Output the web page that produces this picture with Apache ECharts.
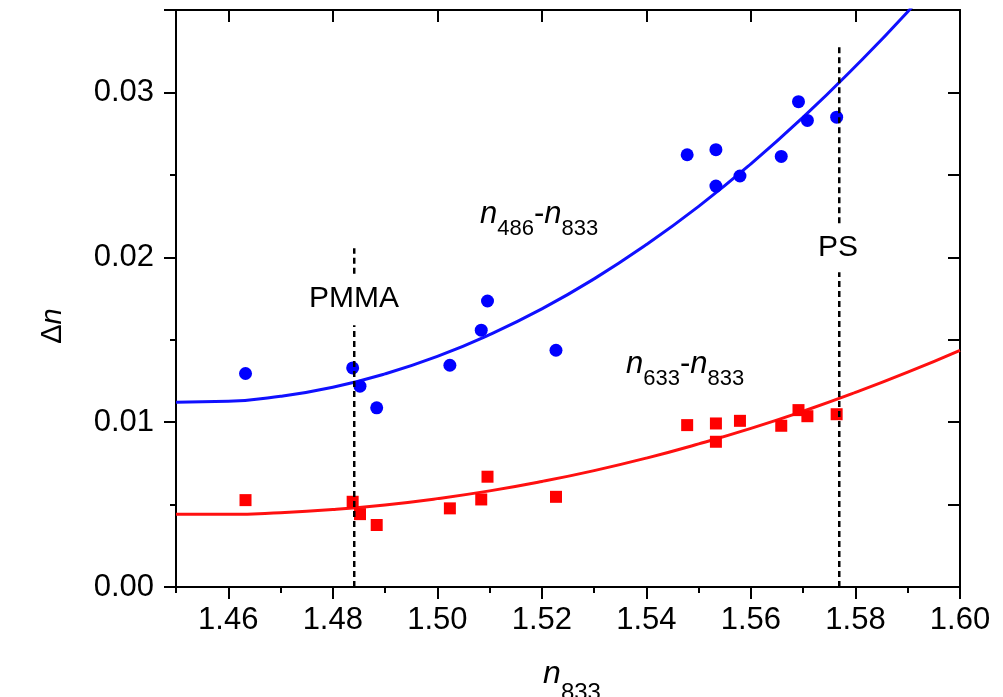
<!DOCTYPE html>
<html>
<head>
<meta charset="utf-8">
<script src="https://cdn.jsdelivr.net/npm/echarts@6/dist/echarts.min.js"></script>
<style>html,body{margin:0;padding:0;background:#fff;}#c{width:1003px;height:697px;}</style>
</head>
<body>
<div id="c"></div>
<script>
// ---- data ----
const blueX = [1.4633, 1.4838, 1.4852, 1.4884, 1.5024, 1.5084, 1.5096, 1.5227, 1.5478, 1.5533, 1.5533, 1.5579, 1.5658, 1.5691, 1.5708, 1.5764];
const blueY = [0.01295, 0.01329, 0.01218, 0.01087, 0.01345, 0.01558, 0.01735, 0.01436, 0.02622, 0.02653, 0.02432, 0.02493, 0.02612, 0.02944, 0.0283, 0.0285];
const redX  = [1.4633, 1.4838, 1.4852, 1.4884, 1.5024, 1.5084, 1.5096, 1.5227, 1.5478, 1.5533, 1.5533, 1.5579, 1.5658, 1.5691, 1.5708, 1.5764];
const redY  = [0.00527, 0.00517, 0.00442, 0.00376, 0.00477, 0.00531, 0.00669, 0.00547, 0.00982, 0.00992, 0.00881, 0.01008, 0.00978, 0.01073, 0.01036, 0.01048];
// fitted curves
const fitX     = [1.45, 1.46, 1.47, 1.48, 1.49, 1.50, 1.51, 1.52, 1.53, 1.54, 1.55, 1.56, 1.57, 1.58, 1.59, 1.60];
const blueFitY = [0.01121, 0.01126, 0.01157, 0.01212, 0.01293, 0.01399, 0.01531, 0.01687, 0.01869, 0.02077, 0.02309, 0.02567, 0.0285, 0.03159, 0.0349, 0.0385];
const redFitY  = [0.00441, 0.00441, 0.00451, 0.0047, 0.00498, 0.00536, 0.00583, 0.0064, 0.00706, 0.00782, 0.00868, 0.00962, 0.01066, 0.0118, 0.01303, 0.01436];
// reference lines (x position, segments in y)
const pmmaX = 1.4841;
const pmmaSegs = [[0, 0.01588], [0.0190, 0.02055]];
const psX = 1.5769;
const psSegs = [[0, 0.01909], [0.02206, 0.0329]];
// axis ticks
const xMajor = [1.46, 1.48, 1.50, 1.52, 1.54, 1.56, 1.58, 1.60];
const xMinor = [1.45, 1.47, 1.49, 1.51, 1.53, 1.55, 1.57, 1.59];
const xMin = 1.45, xMax = 1.60, yMin = 0, yMax = 0.035;

const zip = (a, b) => a.map((v, i) => [v, b[i]]);
const FONT = '"Liberation Sans", Arial, sans-serif';
const TICKFS = 31;

const baseX = {
  type: 'value', min: xMin, max: xMax, splitLine: {show: false},
  axisLine: {show: false}, axisLabel: {show: false}, axisTick: {show: false}
};
const xAxes = [
  Object.assign({}, baseX, {
    position: 'bottom',
    axisLine: {show: true, onZero: false, lineStyle: {color: '#000', width: 2}},
    axisTick: {show: true, inside: false, length: 12, customValues: xMajor, lineStyle: {color: '#000', width: 2}},
    axisLabel: {show: true, customValues: xMajor, margin: 18, color: '#000', fontSize: TICKFS, fontFamily: FONT,
      formatter: v => Number(v).toFixed(2)}
  }),
  Object.assign({}, baseX, {
    position: 'bottom',
    axisTick: {show: true, inside: false, length: 6, customValues: xMinor, lineStyle: {color: '#000', width: 2}}
  }),
  Object.assign({}, baseX, {
    position: 'top',
    axisLine: {show: true, onZero: false, lineStyle: {color: '#000', width: 2}},
    axisTick: {show: true, inside: true, length: 12, customValues: xMajor, lineStyle: {color: '#000', width: 2}}
  }),
  Object.assign({}, baseX, {
    position: 'top',
    axisTick: {show: true, inside: true, length: 6, customValues: xMinor, lineStyle: {color: '#000', width: 2}}
  })
];
const baseY = {
  type: 'value', min: yMin, max: yMax, interval: 0.01, splitLine: {show: false},
  axisLine: {show: true, onZero: false, lineStyle: {color: '#000', width: 2}},
  minorTick: {show: true, splitNumber: 2, length: 6, lineStyle: {color: '#000', width: 2}}
};
const yAxes = [
  Object.assign({}, baseY, {
    position: 'left',
    axisTick: {show: true, inside: false, length: 12, lineStyle: {color: '#000', width: 2}},
    axisLabel: {show: true, margin: 22, color: '#000', fontSize: TICKFS, fontFamily: FONT,
      formatter: v => Number(v).toFixed(2), showMaxLabel: false}
  }),
  Object.assign({}, baseY, {
    position: 'right',
    axisTick: {show: true, inside: true, length: 12, lineStyle: {color: '#000', width: 2}},
    minorTick: {show: true, splitNumber: 2, length: 12, lineStyle: {color: '#000', width: 2}},
    axisLabel: {show: false}
  })
];

function vline(x, segs) {
  return segs.map(s => ({
    type: 'line', xAxisIndex: 0, yAxisIndex: 0, data: [[x, s[0]], [x, s[1]]],
    showSymbol: false, symbol: 'none', silent: true, z: 5,
    lineStyle: {color: '#000', width: 2.5, type: [6, 4]}
  }));
}

const subRich = (pad) => ({
  n: {fontSize: 31, fontStyle: 'italic', fontFamily: FONT, padding: [0, 0, pad, 0], verticalAlign: 'bottom'},
  d: {fontSize: 31, fontFamily: FONT, padding: [0, 0, pad, 0], verticalAlign: 'bottom'},
  s: {fontSize: 22, fontFamily: FONT, verticalAlign: 'bottom'}
});

const option = {
  backgroundColor: '#fff',
  animation: false,
  grid: {left: 176, right: 43, top: 10, bottom: 110, containLabel: false},
  xAxis: xAxes,
  yAxis: yAxes,
  series: [
    {type: 'line', data: zip(fitX, blueFitY), smooth: true, showSymbol: false, symbol: 'none', clip: true,
      lineStyle: {color: '#1010ff', width: 3}, z: 2},
    {type: 'line', data: zip(fitX, redFitY), smooth: true, showSymbol: false, symbol: 'none', clip: true,
      lineStyle: {color: '#ff1010', width: 3}, z: 2},
    {type: 'scatter', data: zip(blueX, blueY), symbol: 'circle', symbolSize: 13,
      itemStyle: {color: '#0000ff', opacity: 1}, z: 3},
    {type: 'scatter', data: zip(redX, redY), symbol: 'rect', symbolSize: 12,
      itemStyle: {color: '#ff0000', opacity: 1}, z: 3},
    ...vline(pmmaX, pmmaSegs),
    ...vline(psX, psSegs)
  ],
  graphic: [
    {type: 'text', x: 354, y: 299, style: {text: 'PMMA', fontSize: 30, fontFamily: FONT, fill: '#000', align: 'center', verticalAlign: 'middle'}},
    {type: 'text', x: 838, y: 248, style: {text: 'PS', fontSize: 30, fontFamily: FONT, fill: '#000', align: 'center', verticalAlign: 'middle'}},
    {type: 'text', x: 480, y: 240, style: {
      text: '{n|n}{s|486}{d|-}{n|n}{s|833}', align: 'left', verticalAlign: 'bottom', fill: '#000', rich: subRich(10)}},
    {type: 'text', x: 626, y: 390, style: {
      text: '{n|n}{s|633}{d|-}{n|n}{s|833}', align: 'left', verticalAlign: 'bottom', fill: '#000', rich: subRich(10)}},
    {type: 'text', x: 572, y: 705, style: {
      text: '{n|n}{s|833}', align: 'center', verticalAlign: 'bottom', fill: '#000',
      rich: {
        n: {fontSize: 32, fontStyle: 'italic', fontFamily: FONT, padding: [0, 0, 15, 0], verticalAlign: 'bottom'},
        s: {fontSize: 24, fontFamily: FONT, verticalAlign: 'bottom'}
      }}},
    {type: 'text', x: 53, y: 326, rotation: Math.PI / 2, style: {
      text: '{a|Δ}{n|n}', align: 'center', verticalAlign: 'middle', fill: '#000',
      rich: {
        a: {fontSize: 29, fontFamily: FONT},
        n: {fontSize: 29, fontStyle: 'italic', fontFamily: FONT}
      }}}
  ]
};
const chart = echarts.init(document.getElementById('c'), null, {renderer: 'canvas'});
chart.setOption(option);
</script>
</body>
</html>
